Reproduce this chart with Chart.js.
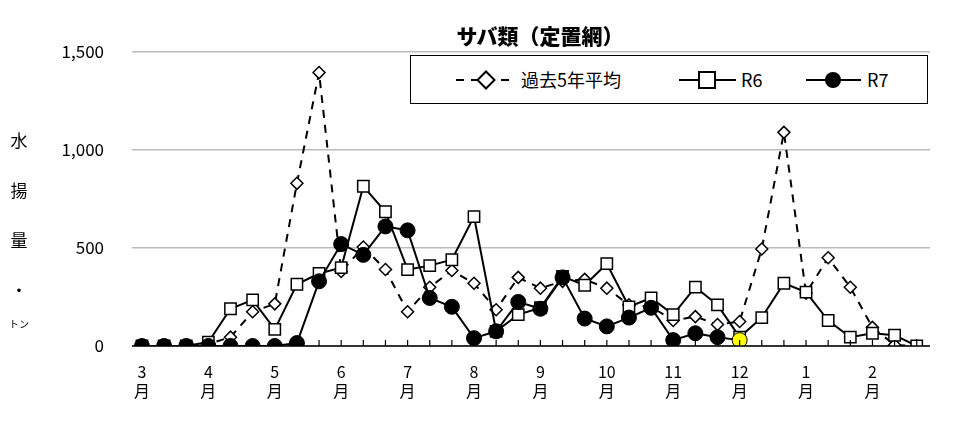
<!DOCTYPE html>
<html><head><meta charset="utf-8">
<script src="https://cdn.jsdelivr.net/npm/chart.js@4"></script>
<style>
body{margin:0;background:#fff;font-family:"Noto Sans CJK JP",sans-serif}
#wrap{position:relative;width:960px;height:421px}
.t{position:absolute;color:#000}
</style></head><body>
<div id="wrap">
<canvas id="c" width="960" height="421"></canvas>
<div class="t" style="left:0;width:1080px;top:22px;text-align:center;font-weight:900;font-size:21px;line-height:26px">サバ類（定置網）</div>
<div class="t" style="left:8px;top:115px;font-size:17px;line-height:50px;width:22px;text-align:center">水<br>揚<br>量<br>・</div>
<div class="t" style="left:9px;top:316px;font-size:10px">トン</div>
<div class="t" style="left:410px;top:55px;width:518px;height:49px;border:1.5px solid #000;box-sizing:border-box;background:#fff">
<svg width="518" height="49" style="position:absolute;left:0;top:0">
<line x1="45" y1="24" x2="105" y2="24" stroke="#000" stroke-width="2" stroke-dasharray="8,7"/>
<rect x="69" y="18" width="12" height="12" transform="rotate(45 75 24)" fill="#fff" stroke="#000" stroke-width="2"/>
<line x1="268" y1="24" x2="325" y2="24" stroke="#000" stroke-width="2"/>
<rect x="288" y="16" width="16" height="16" fill="#fff" stroke="#000" stroke-width="2"/>
<line x1="395" y1="24" x2="450" y2="24" stroke="#000" stroke-width="2"/>
<circle cx="422" cy="24" r="8" fill="#000"/>
</svg>
<div class="t" style="left:110px;top:10px;font-size:18px">過去5年平均</div>
<div class="t" style="left:330px;top:10px;font-size:18px">R6</div>
<div class="t" style="left:456px;top:10px;font-size:18px">R7</div>
</div>
</div>
<script>
const monthLabels = ["3","4","5","6","7","8","9","10","11","12","1","2"];
const avg5 = [0,0,0,10,45,175,215,830,1395,380,505,390,175,300,385,320,185,350,295,330,340,295,210,200,130,150,110,125,495,1090,270,450,300,95,5,0];
const r6 = [0,0,0,20,190,235,85,315,370,400,815,685,390,410,440,660,75,160,195,355,310,420,200,245,160,300,210,45,145,320,275,130,45,65,55,0];
const r7 = [0,0,0,0,0,0,0,15,330,520,465,610,590,245,200,40,75,225,190,350,140,100,145,195,30,65,45,30];
const yTicks = [0,500,1000,1500];
const pts = a => a.map((v,i)=>({x:i,y:v}));
const r7Colors = r7.map((v,i)=> i===r7.length-1 ? '#ffff00' : '#000');
const upTicks = {id:'upTicks',afterDraw(ch){const c=ch.ctx,x=ch.scales.x,a=ch.chartArea;c.save();c.strokeStyle='#000';c.lineWidth=1.2;
 for(let i=0;i<=35;i++){const px=x.getPixelForValue(i);c.beginPath();c.moveTo(px,a.bottom);c.lineTo(px,a.bottom-6);c.stroke();}
 c.beginPath();c.moveTo(a.left,a.bottom);c.lineTo(a.right,a.bottom);c.lineWidth=1.5;c.stroke();c.restore();}};
new Chart(document.getElementById('c'),{
 type:'line',
 data:{datasets:[
  {label:'過去5年平均',data:pts(avg5),borderColor:'#000',borderWidth:2,borderDash:[8,7],pointStyle:'rectRot',pointRadius:6,pointBackgroundColor:'#fff',pointBorderColor:'#000',pointBorderWidth:1.5,order:3},
  {label:'R6',data:pts(r6),borderColor:'#000',borderWidth:2,pointStyle:'rect',pointRadius:8,pointBackgroundColor:'#fff',pointBorderColor:'#000',pointBorderWidth:1.5,order:2},
  {label:'R7',data:pts(r7),borderColor:'#000',borderWidth:2,pointStyle:'circle',pointRadius:7.5,pointBackgroundColor:r7Colors,pointBorderColor:'#000',pointBorderWidth:1,order:1}
 ]},
 options:{responsive:false,animation:false,
  layout:{padding:{left:0,right:30,top:52,bottom:0}},
  plugins:{legend:{display:false},tooltip:{enabled:false}},
  scales:{
   x:{type:'linear',min:-0.45,max:35.6,
     afterBuildTicks(s){s.ticks=[];for(let i=0;i<=33;i+=3)s.ticks.push({value:i});},
     afterFit(s){s.height=75;},
     grid:{display:false},border:{display:false},
     ticks:{autoSkip:false,maxRotation:0,padding:8,color:'#000',font:{family:'Noto Sans CJK JP',size:16},
       callback:(v)=>[monthLabels[v/3],'月']}},
   y:{min:0,max:1500,
     afterBuildTicks(s){s.ticks=yTicks.map(v=>({value:v}));},
     afterFit(s){s.width=132;},
     grid:{color:'#bbb',lineWidth:1.5,drawTicks:false},border:{display:false},
     ticks:{padding:28,color:'#000',font:{family:'Noto Sans CJK JP',size:17},callback:v=>v.toLocaleString('en-US')}}
  }},
 plugins:[upTicks]
});
</script></body></html>
